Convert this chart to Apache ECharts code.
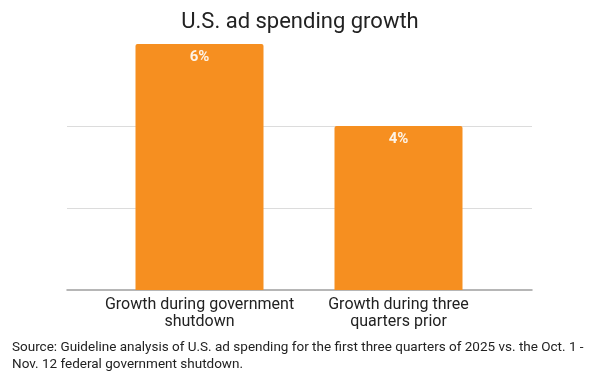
<!DOCTYPE html>
<html>
<head>
<meta charset="utf-8">
<script src="https://cdn.jsdelivr.net/npm/echarts@6/dist/echarts.min.js"></script>
<style>
	html, body { margin: 0; padding: 0; background: #fff; }
	#main { width: 600px; height: 375px; }
</style>
</head>
<body>
<div id="main"></div>
<script>
	// data
	var categories = [ 'Growth during government\nshutdown', 'Growth during three\nquarters prior' ];
	var growth = [ 6, 4 ];
	var barLabels = [ '6%', '4%' ];
	var yTicks = [ 0, 2, 4, 6 ];

	var myChart = echarts.init(document.getElementById('main'));

	var option = {
		backgroundColor : '#fff',
		textStyle : {
			fontFamily : 'Roboto'
		},
		title : {
			text : 'U.S. ad spending growth',
			left : 'center',
			top : 6,
			textStyle : {
				fontSize : 22,
				fontWeight : 'normal',
				color : '#222'
			}
		},
		// grid 0 : gridlines and baseline, grid 1 : the bars
		grid : [ {
			left : 67,
			right : 68,
			top : 44,
			bottom : 85
		}, {
			left : 100,
			right : 102,
			top : 44,
			bottom : 85
		} ],
		xAxis : [ {
			gridIndex : 0,
			type : 'category',
			data : categories,
			axisLine : {
				lineStyle : {
					color : '#9e9e9e',
					width : 1.5
				}
			},
			axisTick : { show : false },
			axisLabel : { show : false }
		}, {
			gridIndex : 1,
			type : 'category',
			data : categories,
			axisLine : { show : false },
			axisTick : { show : false },
			axisLabel : {
				interval : 0,
				margin : 6,
				fontSize : 16,
				lineHeight : 17,
				color : '#222'
			}
		} ],
		yAxis : [ {
			gridIndex : 0,
			type : 'value',
			min : yTicks[0],
			max : yTicks[yTicks.length - 1],
			interval : 2,
			axisLabel : { show : false },
			axisLine : { show : false },
			axisTick : { show : false },
			splitLine : {
				showMinLine : false,
				showMaxLine : false,
				lineStyle : {
					color : '#dcdcdc',
					width : 1
				}
			}
		}, {
			gridIndex : 1,
			type : 'value',
			min : yTicks[0],
			max : yTicks[yTicks.length - 1],
			interval : 2,
			show : false
		} ],
		series : [ {
			name : 'growth',
			type : 'bar',
			xAxisIndex : 1,
			yAxisIndex : 1,
			barWidth : 128,
			data : growth,
			itemStyle : {
				color : '#f68f20',
				borderRadius : [ 2, 2, 0, 0 ]
			},
			label : {
				show : true,
				position : 'insideTop',
				distance : 6,
				fontSize : 15,
				fontWeight : 'bold',
				color : '#fdf3e6',
				formatter : function(p) {
					return barLabels[p.dataIndex];
				}
			}
		} ],
		graphic : [ {
			type : 'text',
			left : 12,
			top : 339,
			style : {
				text : 'Source: Guideline analysis of U.S. ad spending for the first three quarters of 2025 vs. the Oct. 1 -\nNov. 12 federal government shutdown.',
				font : '13.5px Roboto',
				lineHeight : 17,
				fill : '#222'
			}
		} ]
	};

	myChart.setOption(option);
</script>
</body>
</html>
